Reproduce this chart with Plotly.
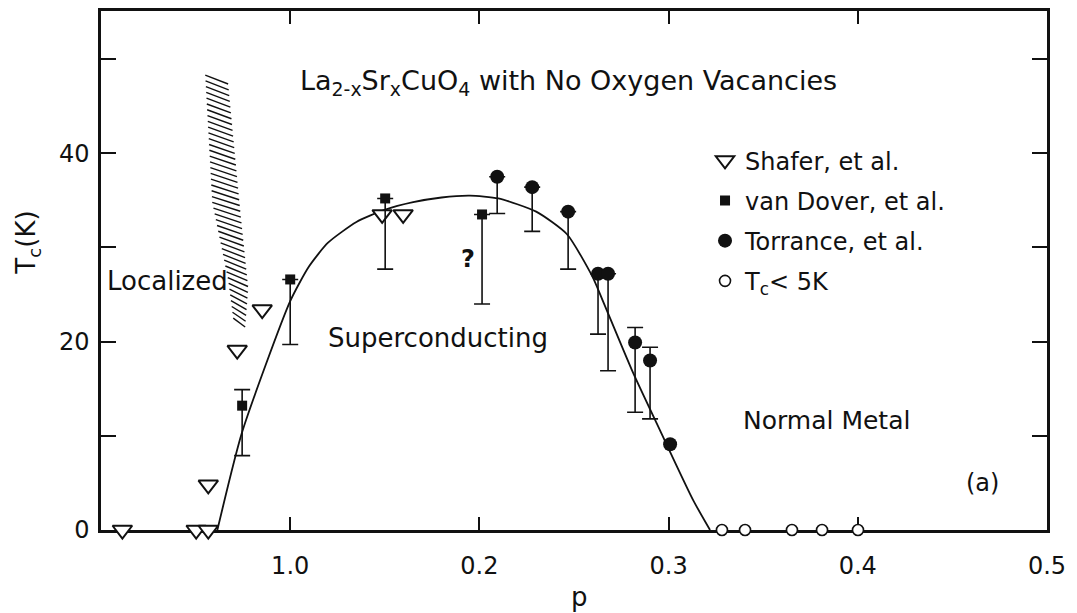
import numpy as np
import plotly.graph_objects as go

# ---------------- data ----------------
# Shafer, et al. (open down-triangles)
shafer_p = [0.0113, 0.0503, 0.0567, 0.0567, 0.0720, 0.0852, 0.1486, 0.1597]
shafer_tc = [0.0, 0.0, 0.0, 4.8, 19.1, 23.4, 33.5, 33.5]

# van Dover, et al. (filled squares with error bars)
vandover_p = [0.0746, 0.1000, 0.1502, 0.2014]
vandover_tc = [13.2, 26.6, 35.2, 33.5]
vandover_err_up = [1.7, 0.0, 0.0, 0.0]
vandover_err_down = [5.3, 6.9, 7.5, 9.5]

# Torrance, et al. (filled circles, error bars)
torrance_p = [0.2094, 0.2279, 0.2469, 0.2627, 0.2680, 0.2823, 0.2902, 0.3008]
torrance_tc = [37.5, 36.4, 33.8, 27.2, 27.2, 19.9, 18.0, 9.1]
torrance_err_up = [0.0, 0.0, 0.0, 0.0, 0.0, 1.6, 1.4, 0.0]
torrance_err_down = [3.9, 4.7, 6.1, 6.4, 10.3, 7.4, 6.2, 0.0]

# Tc < 5K (open circles)
low_p = [0.3282, 0.3404, 0.3652, 0.3811, 0.4001]
low_tc = [0.0, 0.0, 0.0, 0.0, 0.0]

# hand-drawn guide curve
curve_p = [0.0615, 0.0746, 0.1000, 0.1100, 0.1200, 0.1350, 0.1500, 0.1650, 0.1800,
           0.1950, 0.2100, 0.2300, 0.2463, 0.2600, 0.2653, 0.2812, 0.2954, 0.3129, 0.3219]
curve_tc = [0.0, 10.4, 24.3, 28.0, 30.5, 32.7, 34.0, 34.8, 35.3,
            35.5, 35.2, 33.8, 31.4, 26.8, 24.3, 16.7, 10.6, 3.2, 0.0]

# hatched "Localized" boundary band (edges, Tc from top to bottom)
hatch_edge_tc = [48.3, 34.8, 26.6, 22.5]
hatch_left_p = [0.0551, 0.0588, 0.0672, 0.0699]
hatch_right_p = [0.0672, 0.0736, 0.0778, 0.0762]

# axis ticks
x_tickvals = [0.1, 0.2, 0.3, 0.4, 0.5]
x_ticktext = ["1.0", "0.2", "0.3", "0.4", "0.5"]
y_tickvals = [0, 20, 40]
y_ticktext = ["0", "20", "40"]

FONT = "DejaVu Sans"
BLACK = "#111111"

fig = go.Figure()

# hatch strokes built from band edges
n_strokes = 43
stroke_drop = 0.95
e_tc = hatch_edge_tc[::-1]
e_l = hatch_left_p[::-1]
e_r = hatch_right_p[::-1]
hx, hy = [], []
for t in np.linspace(hatch_edge_tc[0], hatch_edge_tc[-1], n_strokes):
    xl = float(np.interp(t, e_tc, e_l))
    xr = float(np.interp(t, e_tc, e_r))
    hx += [xl, xr, None]
    hy += [t, t - stroke_drop, None]
fig.add_trace(go.Scatter(x=hx, y=hy, mode="lines", line=dict(color=BLACK, width=1.4),
                         showlegend=False, hoverinfo="skip"))

# curve
fig.add_trace(go.Scatter(x=curve_p, y=curve_tc, mode="lines",
                         line=dict(color=BLACK, width=1.8, shape="spline", smoothing=0.6),
                         showlegend=False, hoverinfo="skip", cliponaxis=False))

# Shafer
fig.add_trace(go.Scatter(x=shafer_p, y=shafer_tc, mode="markers", name="Shafer, et al.",
                         legendgroup="a",
                         marker=dict(symbol="triangle-down", size=17, color="white",
                                     line=dict(color=BLACK, width=2)),
                         cliponaxis=False))

# van Dover
fig.add_trace(go.Scatter(x=vandover_p, y=vandover_tc, mode="markers", name="van Dover, et al.",
                         legendgroup="b",
                         marker=dict(symbol="square", size=10, color=BLACK),
                         error_y=dict(type="data", symmetric=False, array=vandover_err_up,
                                      arrayminus=vandover_err_down, color=BLACK,
                                      thickness=1.6, width=8),
                         cliponaxis=False))

# Torrance (with error bars / without)
idx_e = [i for i in range(len(torrance_p)) if torrance_err_down[i] > 0]
idx_n = [i for i in range(len(torrance_p)) if torrance_err_down[i] == 0]
fig.add_trace(go.Scatter(x=[torrance_p[i] for i in idx_e], y=[torrance_tc[i] for i in idx_e],
                         mode="markers", name="Torrance, et al.", legendgroup="c",
                         marker=dict(symbol="circle", size=14, color=BLACK),
                         error_y=dict(type="data", symmetric=False,
                                      array=[torrance_err_up[i] for i in idx_e],
                                      arrayminus=[torrance_err_down[i] for i in idx_e],
                                      color=BLACK, thickness=1.6, width=8),
                         cliponaxis=False))
fig.add_trace(go.Scatter(x=[torrance_p[i] for i in idx_n], y=[torrance_tc[i] for i in idx_n],
                         mode="markers", name="Torrance, et al.", legendgroup="c", showlegend=False,
                         marker=dict(symbol="circle", size=14, color=BLACK), cliponaxis=False))

# Tc < 5K
fig.add_trace(go.Scatter(x=low_p, y=low_tc, mode="markers", name="T<sub>c</sub>< 5K",
                         legendgroup="d",
                         marker=dict(symbol="circle", size=11, color="white",
                                     line=dict(color=BLACK, width=1.6)),
                         cliponaxis=False))

axis_common = dict(showline=True, linecolor=BLACK, linewidth=2.5, mirror="ticks",
                   ticks="inside", tickcolor=BLACK, tickwidth=2, showgrid=False,
                   zeroline=False, layer="below traces",
                   tickfont=dict(family=FONT, size=24, color=BLACK))

fig.update_xaxes(range=[0, 0.5], tickvals=x_tickvals, ticktext=x_ticktext, ticklen=13,
                 ticklabelstandoff=12, **axis_common)
fig.update_yaxes(range=[0, 55.1], tickvals=y_tickvals, ticktext=y_ticktext, ticklen=15,
                 ticklabelstandoff=4,
                 minor=dict(tickvals=[10, 30, 50], ticks="inside", ticklen=15,
                            tickwidth=2, tickcolor=BLACK, showgrid=False),
                 **axis_common)

annotations = [
    dict(text="La<sub>2-x</sub>Sr<sub>x</sub>CuO<sub>4</sub> with No Oxygen Vacancies",
         x=0.4947, y=0.862, font=dict(family=FONT, size=27, color=BLACK)),
    dict(text="Localized", x=0.0708, y=0.479, font=dict(family=FONT, size=26, color=BLACK)),
    dict(text="Superconducting", x=0.3562, y=0.37, font=dict(family=FONT, size=26, color=BLACK)),
    dict(text="<b>?</b>", x=0.388, y=0.523, font=dict(family=FONT, size=24, color=BLACK)),
    dict(text="Normal Metal", x=0.7674, y=0.2107, font=dict(family=FONT, size=25, color=BLACK)),
    dict(text="(a)", x=0.9313, y=0.09, font=dict(family=FONT, size=24, color=BLACK)),
    dict(text="T<sub>c</sub>(K)", x=-0.0772, y=0.5536, textangle=-90,
         font=dict(family=FONT, size=26, color=BLACK)),
    dict(text="p", x=0.5063, y=-0.1284, font=dict(family=FONT, size=26, color=BLACK)),
]
for a in annotations:
    a.update(xref="paper", yref="paper", showarrow=False, xanchor="center", yanchor="middle")

fig.update_layout(
    width=1077, height=613,
    margin=dict(l=101, r=30, t=8, b=83),
    paper_bgcolor="white", plot_bgcolor="white",
    font=dict(family=FONT, color=BLACK),
    annotations=annotations,
    showlegend=True,
    legend=dict(x=0.6385, y=0.755, xanchor="left", yanchor="top",
                font=dict(family=FONT, size=24, color=BLACK),
                bgcolor="rgba(0,0,0,0)", borderwidth=0, tracegroupgap=6,
                itemsizing="trace"),
)

fig.write_html("out.html")
